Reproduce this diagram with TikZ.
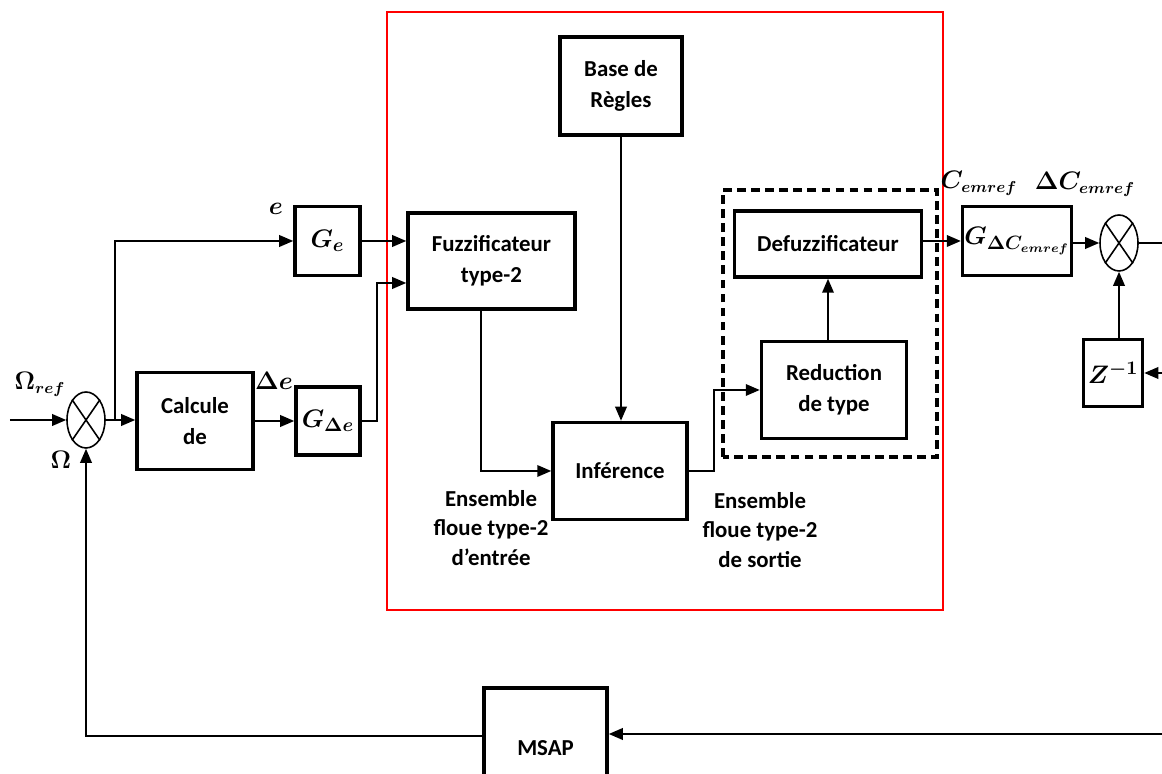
\documentclass[tikz,border=0pt]{standalone}
\usepackage{amsmath}
\usepackage{bm}
\usepackage{fontspec}
\setmainfont{Carlito}
\usetikzlibrary{arrows.meta,shapes.geometric}

\begin{document}
\begin{tikzpicture}[
    blk/.style={draw,line width=2pt,align=center,inner sep=2pt,font=\bfseries\fontsize{13}{17.5}\selectfont},
    gain/.style={draw,line width=2pt,inner sep=1pt,font=\fontsize{15}{17}\selectfont},
    sumnode/.style={ellipse,draw,line width=0.9pt,minimum width=0.76cm,minimum height=1.12cm,inner sep=0pt},
    txt/.style={align=center,font=\bfseries\fontsize{13}{17}\selectfont},
    lbl/.style={font=\fontsize{13.5}{15}\selectfont},
    sig/.style={line width=1.1pt,-{Triangle[length=2.8mm,width=2.3mm]}},
    wire/.style={line width=1.1pt}
]
    \useasboundingbox (0,0) rectangle (23.24,15.48);
    \clip (0,0) rectangle (23.24,15.48);
    % fuzzy controller frame
    \draw[red,line width=0.8pt] (7.74,3.28) rectangle (18.86,15.24);
    \draw[line width=1.8pt,dash pattern=on 5pt off 3pt] (14.46,6.34) rectangle (18.74,11.68);
    % blocks
    \draw (12.42,13.76) node(base) [blk,minimum width=2.44cm,minimum height=1.96cm] {Base de\\R\`egles}
        (9.83,10.26) node(fuzz) [blk,minimum width=3.34cm,minimum height=1.92cm] {Fuzzificateur\\type-2}
        (12.40,6.06) node(inf) [blk,minimum width=2.68cm,minimum height=1.94cm] {Inf\'erence}
        (16.56,10.60) node(defuz) [blk,minimum width=3.74cm,minimum height=1.32cm] {Defuzzificateur}
        (16.68,7.68) node(red) [blk,minimum width=2.90cm,minimum height=1.94cm] {Reduction\\de type}
        (3.90,7.06) node(calc) [blk,minimum width=2.32cm,minimum height=1.94cm] {Calcule\\de}
        (10.91,0.52) node(msap) [blk,minimum width=2.46cm,minimum height=2.40cm] {MSAP};
    \draw (6.55,10.66) node(ge) [gain,minimum width=1.30cm,minimum height=1.38cm] {$\bm{G_e}$}
        (6.56,7.06) node(gde) [gain,minimum width=1.28cm,minimum height=1.36cm] {$\bm{G_{\Delta e}}$}
        (20.34,10.66) node(gdc) [gain,minimum width=2.16cm,minimum height=1.38cm] {$\bm{G_{\Delta C_{emref}}}$}
        (22.26,8.02) node(zinv) [gain,minimum width=1.18cm,minimum height=1.34cm] {$\bm{Z^{-1}}$};
    % comparators
    \node(sum1) [sumnode] at (1.72,7.08) {};
    \node(sum2) [sumnode] at (22.38,10.62) {};
    \draw[line width=0.9pt] (sum1.north east) -- (sum1.south west) (sum1.north west) -- (sum1.south east);
    \draw[line width=0.9pt] (sum2.north east) -- (sum2.south west) (sum2.north west) -- (sum2.south east);
    % free ends
    \coordinate (wref) at (0.20,7.08);
    \coordinate (br) at (2.30,7.08);
    \coordinate (cout) at (23.24,10.62);
    \coordinate (zin) at (23.24,8.02);
    \coordinate (min) at (23.24,0.80);
    % signals
    \draw[sig] (wref) -- (sum1.west);
    \draw[sig] (sum1.east) -- (sum1.east -| calc.west);
    \draw[sig] (br) |- (ge.west);
    \draw[sig] (calc.east) -- (gde.west);
    \draw[sig] (ge.east) -- (ge.east -| fuzz.west);
    \draw[sig] (gde.east) -- ++(0.3,0) |- ([yshift=-0.44cm]fuzz.west);
    \draw[sig] ([xshift=-0.21cm]fuzz.south) |- (inf.west);
    \draw[sig] (base.south) -- (base.south |- inf.north);
    \draw[sig] (inf.east) -- ++(0.5,0) |- (red.west);
    \draw[sig] (defuz.south |- red.north) -- (defuz.south);
    \draw[sig] (defuz.east |- gdc.west) -- (gdc.west);
    \draw[sig] (gdc.east |- sum2.west) -- (sum2.west);
    \draw[wire] (sum2.east) -- (cout);
    \draw[sig] (sum2.south |- zinv.north) -- (sum2.south);
    \draw[sig] (zin) -- (zinv.east);
    \draw[sig] (min) -- (min -| msap.east);
    \draw[sig] ([yshift=0.24cm]msap.west) -| (sum1.south);
    % labels
    \node[lbl] (lref) at (0.80,7.80) {$\bm{\Omega_{ref}}$};
    \node[lbl] (lom) at (1.22,6.28) {$\bm{\Omega}$};
    \node[lbl] (le) at (5.52,11.30) {$\bm{e}$};
    \node[lbl] (lde) at (5.48,7.86) {$\bm{\Delta e}$};
    \node[lbl] (lc) at (19.58,11.82) {$\bm{C_{emref}}$};
    \node[lbl] (ldc) at (21.70,11.80) {$\bm{\Delta C_{emref}}$};
    \node[txt] (ein) at (9.82,4.92) {Ensemble\\floue type-2\\d'entr\'ee};
    \node[txt] (eout) at (15.20,4.88) {Ensemble\\floue type-2\\de sortie};
\end{tikzpicture}
\end{document}
